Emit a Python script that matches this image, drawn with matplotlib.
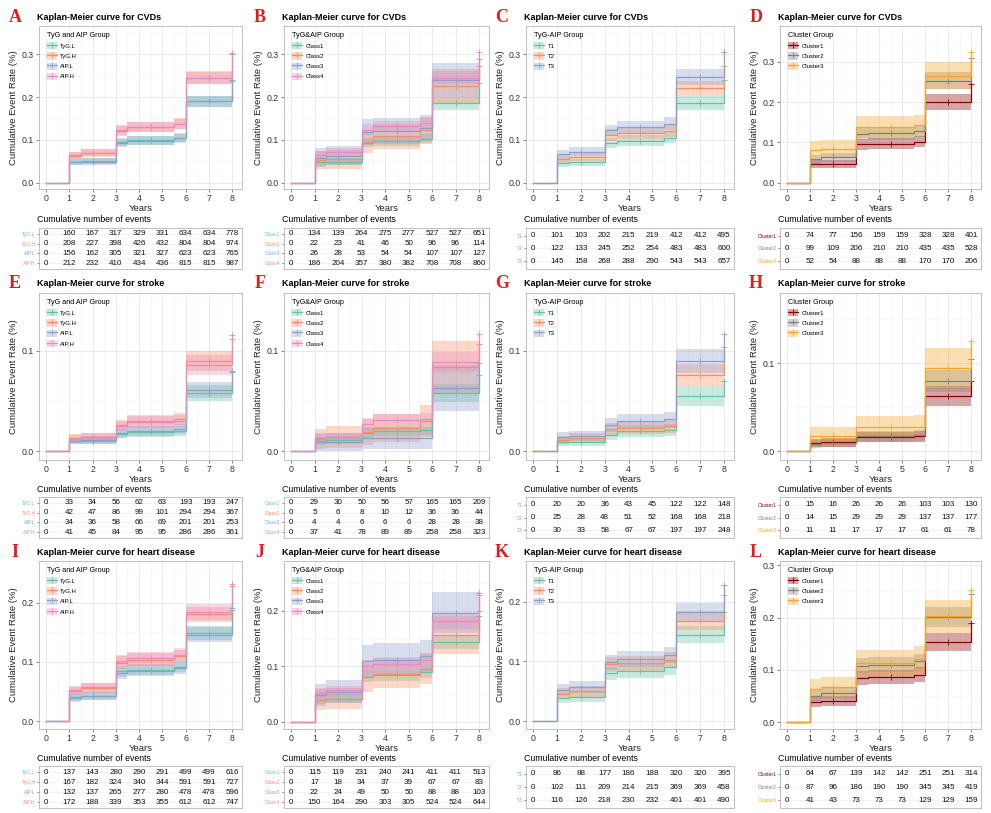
import numpy as np
import matplotlib
matplotlib.use("Agg")
import matplotlib.pyplot as plt
from matplotlib.patches import Patch
from matplotlib.lines import Line2D

plt.rcParams['font.family'] = ['Liberation Sans', 'DejaVu Sans']

# ---------------- data ----------------
years = [0, 1, 2, 3, 4, 5, 6, 7, 8]
step_times = [0, 1, 1.5, 3, 3.5, 5.5, 6, 8]
censor_times = [2, 4.5, 7]

g1_labels = ["TyG.L", "TyG.H", "AIP.L", "AIP.H"]
g2_labels = ["Class1", "Class2", "Class3", "Class4"]
g3_labels = ["T1", "T2", "T3"]
g4_labels = ["Cluster1", "Cluster2", "Cluster3"]

g1_title = "TyG and AIP Group"
g2_title = "TyG&AIP Group"
g3_title = "TyG-AIP Group"
g4_title = "Cluster Group"

# approximate group sizes (used for the confidence bands)
g1_n = [3340, 3280, 3280, 3330]
g2_n = [2850, 427, 446, 2890]
g3_n = [2200, 2200, 2200]
g4_n = [1640, 1720, 640]

set2 = ["#66C2A5", "#FC8D62", "#8DA0CB", "#E78AC3"]
cluster_cols = ["#8B0000", "#808080", "#F5A623"]

# cumulative event rate after each step at t = 1, 1.5, 3, 3.5, 5.5, 6, 8
cvd_g1_rate = [[0.048, 0.050, 0.095, 0.099, 0.104, 0.190, 0.240],
               [0.063, 0.069, 0.121, 0.130, 0.138, 0.245, 0.302],
               [0.048, 0.049, 0.093, 0.098, 0.105, 0.190, 0.238],
               [0.064, 0.070, 0.123, 0.130, 0.137, 0.245, 0.300]]
cvd_g2_rate = [[0.047, 0.049, 0.093, 0.097, 0.102, 0.185, 0.232],
               [0.052, 0.054, 0.096, 0.108, 0.123, 0.225, 0.272],
               [0.058, 0.063, 0.119, 0.121, 0.127, 0.240, 0.288],
               [0.064, 0.071, 0.124, 0.132, 0.139, 0.245, 0.305]]
cvd_g3_rate = [[0.046, 0.047, 0.092, 0.098, 0.105, 0.187, 0.240],
               [0.055, 0.060, 0.111, 0.115, 0.121, 0.220, 0.272],
               [0.066, 0.072, 0.122, 0.131, 0.138, 0.247, 0.305]]
cvd_g4_rate = [[0.045, 0.047, 0.095, 0.097, 0.102, 0.200, 0.245],
               [0.058, 0.063, 0.120, 0.122, 0.128, 0.253, 0.310],
               [0.081, 0.084, 0.138, 0.138, 0.142, 0.266, 0.325]]

stroke_g1_rate = [[0.010, 0.010, 0.017, 0.019, 0.020, 0.058, 0.079],
                  [0.013, 0.014, 0.026, 0.030, 0.032, 0.090, 0.116],
                  [0.010, 0.011, 0.018, 0.020, 0.022, 0.061, 0.080],
                  [0.012, 0.014, 0.025, 0.029, 0.030, 0.086, 0.112]]
stroke_g2_rate = [[0.010, 0.011, 0.018, 0.020, 0.021, 0.058, 0.076],
                  [0.012, 0.014, 0.019, 0.023, 0.030, 0.084, 0.107],
                  [0.009, 0.009, 0.013, 0.013, 0.013, 0.063, 0.088],
                  [0.013, 0.014, 0.027, 0.031, 0.032, 0.089, 0.117]]
stroke_g3_rate = [[0.009, 0.009, 0.016, 0.020, 0.021, 0.055, 0.070],
                  [0.011, 0.013, 0.022, 0.023, 0.025, 0.076, 0.104],
                  [0.014, 0.015, 0.026, 0.030, 0.032, 0.090, 0.117]]
stroke_g4_rate = [[0.009, 0.010, 0.016, 0.016, 0.017, 0.063, 0.080],
                  [0.008, 0.009, 0.017, 0.017, 0.018, 0.080, 0.105],
                  [0.017, 0.017, 0.027, 0.027, 0.028, 0.095, 0.125]]

heart_g1_rate = [[0.041, 0.043, 0.084, 0.087, 0.092, 0.149, 0.190],
                 [0.051, 0.056, 0.099, 0.104, 0.110, 0.180, 0.228],
                 [0.040, 0.042, 0.081, 0.085, 0.090, 0.146, 0.188],
                 [0.052, 0.057, 0.102, 0.106, 0.112, 0.184, 0.231]]
heart_g2_rate = [[0.040, 0.042, 0.081, 0.084, 0.089, 0.144, 0.190],
                 [0.040, 0.042, 0.080, 0.087, 0.096, 0.157, 0.200],
                 [0.049, 0.054, 0.110, 0.112, 0.118, 0.197, 0.232],
                 [0.052, 0.057, 0.100, 0.105, 0.111, 0.181, 0.228]]
heart_g3_rate = [[0.039, 0.040, 0.080, 0.084, 0.090, 0.145, 0.182],
                 [0.046, 0.050, 0.095, 0.097, 0.103, 0.168, 0.211],
                 [0.053, 0.057, 0.099, 0.104, 0.111, 0.182, 0.228]]
heart_g4_rate = [[0.039, 0.041, 0.085, 0.087, 0.091, 0.153, 0.190],
                 [0.051, 0.056, 0.108, 0.110, 0.116, 0.201, 0.245],
                 [0.064, 0.067, 0.114, 0.114, 0.120, 0.202, 0.252]]

# cumulative number of events at years 0..8
cvd_g1_events = [[0, 160, 167, 317, 329, 331, 634, 634, 778],
                 [0, 208, 227, 398, 426, 432, 804, 804, 974],
                 [0, 156, 162, 305, 321, 327, 623, 623, 765],
                 [0, 212, 232, 410, 434, 436, 815, 815, 987]]
cvd_g2_events = [[0, 134, 139, 264, 275, 277, 527, 527, 651],
                 [0, 22, 23, 41, 46, 50, 96, 96, 114],
                 [0, 26, 28, 53, 54, 54, 107, 107, 127],
                 [0, 186, 204, 357, 380, 382, 708, 708, 860]]
cvd_g3_events = [[0, 101, 103, 202, 215, 219, 412, 412, 495],
                 [0, 122, 133, 245, 252, 254, 483, 483, 600],
                 [0, 145, 158, 268, 288, 290, 543, 543, 657]]
cvd_g4_events = [[0, 74, 77, 156, 159, 159, 328, 328, 401],
                 [0, 99, 109, 206, 210, 210, 435, 435, 528],
                 [0, 52, 54, 88, 88, 88, 170, 170, 206]]

stroke_g1_events = [[0, 33, 34, 56, 62, 63, 193, 193, 247],
                    [0, 42, 47, 86, 99, 101, 294, 294, 367],
                    [0, 34, 36, 58, 66, 69, 201, 201, 253],
                    [0, 41, 45, 84, 95, 95, 286, 286, 361]]
stroke_g2_events = [[0, 29, 30, 50, 56, 57, 165, 165, 209],
                    [0, 5, 6, 8, 10, 12, 36, 36, 44],
                    [0, 4, 4, 6, 6, 6, 28, 28, 38],
                    [0, 37, 41, 78, 89, 89, 258, 258, 323]]
stroke_g3_events = [[0, 20, 20, 36, 43, 45, 122, 122, 148],
                    [0, 25, 28, 48, 51, 52, 168, 168, 218],
                    [0, 30, 33, 58, 67, 67, 197, 197, 248]]
stroke_g4_events = [[0, 15, 16, 26, 26, 26, 103, 103, 130],
                    [0, 14, 15, 29, 29, 29, 137, 137, 177],
                    [0, 11, 11, 17, 17, 17, 61, 61, 78]]

heart_g1_events = [[0, 137, 143, 280, 290, 291, 499, 499, 616],
                   [0, 167, 182, 324, 340, 344, 591, 591, 727],
                   [0, 132, 137, 265, 277, 280, 478, 478, 596],
                   [0, 172, 188, 339, 353, 355, 612, 612, 747]]
heart_g2_events = [[0, 115, 119, 231, 240, 241, 411, 411, 513],
                   [0, 17, 18, 34, 37, 39, 67, 67, 83],
                   [0, 22, 24, 49, 50, 50, 88, 88, 103],
                   [0, 150, 164, 290, 303, 305, 524, 524, 644]]
heart_g3_events = [[0, 86, 88, 177, 186, 188, 320, 320, 395],
                   [0, 102, 111, 209, 214, 215, 369, 369, 458],
                   [0, 116, 126, 218, 230, 232, 401, 401, 490]]
heart_g4_events = [[0, 64, 67, 139, 142, 142, 251, 251, 314],
                   [0, 87, 96, 186, 190, 190, 345, 345, 419],
                   [0, 41, 43, 73, 73, 73, 129, 129, 159]]

groupings = [
    (g1_labels, g1_title, g1_n, set2),
    (g2_labels, g2_title, g2_n, set2),
    (g3_labels, g3_title, g3_n, set2[:3]),
    (g4_labels, g4_title, g4_n, cluster_cols),
]
outcomes = [
    ("CVDs", [cvd_g1_rate, cvd_g2_rate, cvd_g3_rate, cvd_g4_rate],
     [cvd_g1_events, cvd_g2_events, cvd_g3_events, cvd_g4_events]),
    ("stroke", [stroke_g1_rate, stroke_g2_rate, stroke_g3_rate, stroke_g4_rate],
     [stroke_g1_events, stroke_g2_events, stroke_g3_events, stroke_g4_events]),
    ("heart disease", [heart_g1_rate, heart_g2_rate, heart_g3_rate, heart_g4_rate],
     [heart_g1_events, heart_g2_events, heart_g3_events, heart_g4_events]),
]
letters = ["ABCD", "EFGH", "IJKL"]

# ---------------- layout (pixels) ----------------
W, H = 991, 813
cols_px = [(39, 242), (284, 489), (526, 734), (780, 981)]
plot_rows_px = [(26, 189), (293, 460), (561, 729)]
table_rows_px = [(228, 269), (497, 538), (766, 808)]
ylims = [[(-0.015, 0.366)] * 3 + [(-0.016, 0.389)],
         [(-0.009, 0.158)] * 3 + [(-0.010, 0.180)],
         [(-0.013, 0.270), (-0.013, 0.290), (-0.013, 0.268), (-0.013, 0.308)]]
xlim = (-0.3, 8.42)

fig = plt.figure(figsize=(W / 100, H / 100), dpi=100)


def add_ax(x0, x1, y0, y1):
    return fig.add_axes([x0 / W, 1 - y1 / H, (x1 - x0) / W, (y1 - y0) / H])


def style_frame(ax):
    for sp in ax.spines.values():
        sp.set_color("#B5B5B5")
        sp.set_linewidth(0.6)
    ax.tick_params(length=2, width=0.5, color="#555555", labelsize=6.3,
                   labelcolor="#333333", pad=1.5)


for r, (outcome, rate_sets, event_sets) in enumerate(outcomes):
    for c, (labels, ltitle, sizes, colors) in enumerate(groupings):
        x0, x1 = cols_px[c]
        py0, py1 = plot_rows_px[r]
        ty0, ty1 = table_rows_px[r]
        rates = rate_sets[c]
        events = event_sets[c]

        # ---- KM plot ----
        ax = add_ax(x0, x1, py0, py1)
        ax.set_xlim(*xlim)
        ax.set_ylim(*ylims[r][c])
        ax.set_xticks(years)
        ax.set_xticks(np.arange(0.5, 8, 1), minor=True)
        top = ylims[r][c][1]
        ax.set_yticks(np.arange(0, top, 0.1))
        ax.set_yticks(np.arange(0.05, top, 0.1), minor=True)
        ax.yaxis.set_major_formatter(matplotlib.ticker.FormatStrFormatter("%.1f"))
        ax.grid(which="major", color="#E6E6E6", lw=0.6)
        ax.grid(which="minor", color="#F3F3F3", lw=0.4)
        ax.tick_params(which="minor", length=0)
        ax.set_axisbelow(True)
        style_frame(ax)

        handles = []
        for g, lab in enumerate(labels):
            col = colors[g]
            y = np.array([0.0] + rates[g])
            band_y = y.copy()
            band_y[-1] = y[-2]
            half = 1.96 * np.sqrt(band_y * (1 - band_y) / sizes[g])
            ax.fill_between(step_times, np.clip(band_y - half, 0, None), band_y + half,
                            step="post", color=col, alpha=0.35, lw=0)
            ax.step(step_times, y, where="post", color=col, lw=0.9)
            cy = [y[np.searchsorted(step_times, t, side="right") - 1] for t in censor_times]
            ax.plot(censor_times + [8], cy + [y[-1]], ls="none", marker="+",
                    color=col, ms=4, mew=0.6)
            handles.append((Patch(facecolor=col, alpha=0.35, edgecolor="none"),
                            Line2D([], [], color=col, lw=0.9, marker="+", ms=4, mew=0.6)))
        leg = ax.legend(handles, labels, title=ltitle, loc="upper left",
                        bbox_to_anchor=(0.02, 0.985), frameon=False, fontsize=4.3,
                        title_fontsize=5.2, handlelength=1.7, handleheight=1.5,
                        labelspacing=0.5, borderaxespad=0.2, handletextpad=0.6)
        leg._legend_box.align = "left"

        ax.set_xlabel("Years", fontsize=6.8, labelpad=0.5, color="#222222")
        ax.set_ylabel("Cumulative Event Rate (%)", fontsize=6.8, labelpad=3,
                      color="#222222")

        # title and panel letter
        fig.text((x0 - 2) / W, 1 - (py0 - 9) / H, f"Kaplan-Meier curve for {outcome}",
                 fontsize=6.5, fontweight="bold", ha="left", va="center")
        fig.text((x0 - 24) / W, 1 - (py0 - 9) / H, letters[r][c],
                 family="Liberation Serif", fontweight="bold", fontsize=13,
                 color="#E41A1C", ha="center", va="center")

        # ---- risk table ----
        n = len(labels)
        at = add_ax(x0, x1, ty0, ty1)
        at.set_xlim(*xlim)
        at.set_ylim(n + 0.6, 0.4)
        at.set_xticks(years)
        at.set_xticklabels([])
        at.set_yticks(range(1, n + 1))
        at.set_yticklabels(labels)
        at.grid(color="#EDEDED", lw=0.5)
        at.set_axisbelow(True)
        style_frame(at)
        at.tick_params(axis="y", labelsize=3.6, length=1.5, pad=1)
        at.tick_params(axis="x", length=0)
        for tl, col in zip(at.get_yticklabels(), colors):
            tl.set_color(col)
        for g in range(n):
            for xi, v in zip(years, events[g]):
                at.text(xi, g + 1, str(v), ha="center", va="center", fontsize=5.8,
                        color="#111111")
        fig.text((x0 - 2) / W, 1 - (ty0 - 8) / H, "Cumulative number of events",
                 fontsize=6.3, ha="left", va="center")

fig.savefig("out.png", dpi=100, facecolor="white")
